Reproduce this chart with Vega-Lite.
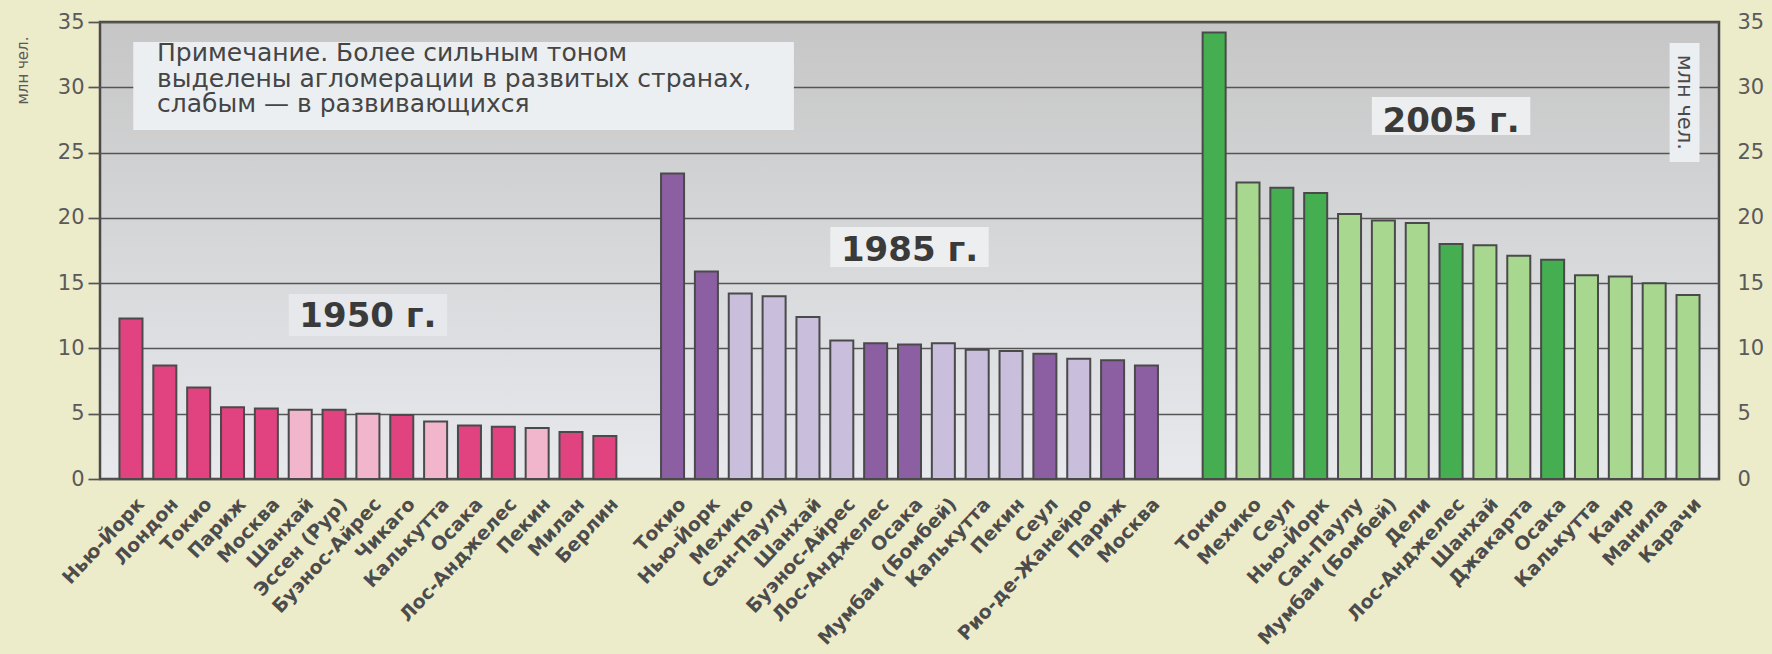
{
  "$schema": "https://vega.github.io/schema/vega-lite/v6.json",
  "width": 1619,
  "height": 457,
  "autosize": {"type": "none"},
  "padding": {"left": 100, "top": 22, "right": 53, "bottom": 175},
  "background": "#ecebca",
  "config": {
    "font": "DejaVu Sans",
    "view": {
      "fill": {"gradient": "linear", "x1": 0, "y1": 0, "x2": 0, "y2": 1, "stops": [{"offset": 0, "color": "#c6c6c6"}, {"offset": 1, "color": "#e7e9ed"}]},
      "stroke": "#4a4a4a",
      "strokeWidth": 2.5
    }
  },
  "data": {
    "values": [
      {"bar": "1950|Нью-Йорк", "year": 1950, "city": "Нью-Йорк", "value": 12.3, "group": "1950 развитые"},
      {"bar": "1950|Лондон", "year": 1950, "city": "Лондон", "value": 8.7, "group": "1950 развитые"},
      {"bar": "1950|Токио", "year": 1950, "city": "Токио", "value": 7.0, "group": "1950 развитые"},
      {"bar": "1950|Париж", "year": 1950, "city": "Париж", "value": 5.5, "group": "1950 развитые"},
      {"bar": "1950|Москва", "year": 1950, "city": "Москва", "value": 5.4, "group": "1950 развитые"},
      {"bar": "1950|Шанхай", "year": 1950, "city": "Шанхай", "value": 5.3, "group": "1950 развивающиеся"},
      {"bar": "1950|Эссен (Рур)", "year": 1950, "city": "Эссен (Рур)", "value": 5.3, "group": "1950 развитые"},
      {"bar": "1950|Буэнос-Айрес", "year": 1950, "city": "Буэнос-Айрес", "value": 5.0, "group": "1950 развивающиеся"},
      {"bar": "1950|Чикаго", "year": 1950, "city": "Чикаго", "value": 4.9, "group": "1950 развитые"},
      {"bar": "1950|Калькутта", "year": 1950, "city": "Калькутта", "value": 4.4, "group": "1950 развивающиеся"},
      {"bar": "1950|Осака", "year": 1950, "city": "Осака", "value": 4.1, "group": "1950 развитые"},
      {"bar": "1950|Лос-Анджелес", "year": 1950, "city": "Лос-Анджелес", "value": 4.0, "group": "1950 развитые"},
      {"bar": "1950|Пекин", "year": 1950, "city": "Пекин", "value": 3.9, "group": "1950 развивающиеся"},
      {"bar": "1950|Милан", "year": 1950, "city": "Милан", "value": 3.6, "group": "1950 развитые"},
      {"bar": "1950|Берлин", "year": 1950, "city": "Берлин", "value": 3.3, "group": "1950 развитые"},
      {"bar": "1985|Токио", "year": 1985, "city": "Токио", "value": 23.4, "group": "1985 развитые"},
      {"bar": "1985|Нью-Йорк", "year": 1985, "city": "Нью-Йорк", "value": 15.9, "group": "1985 развитые"},
      {"bar": "1985|Мехико", "year": 1985, "city": "Мехико", "value": 14.2, "group": "1985 развивающиеся"},
      {"bar": "1985|Сан-Паулу", "year": 1985, "city": "Сан-Паулу", "value": 14.0, "group": "1985 развивающиеся"},
      {"bar": "1985|Шанхай", "year": 1985, "city": "Шанхай", "value": 12.4, "group": "1985 развивающиеся"},
      {"bar": "1985|Буэнос-Айрес", "year": 1985, "city": "Буэнос-Айрес", "value": 10.6, "group": "1985 развивающиеся"},
      {"bar": "1985|Лос-Анджелес", "year": 1985, "city": "Лос-Анджелес", "value": 10.4, "group": "1985 развитые"},
      {"bar": "1985|Осака", "year": 1985, "city": "Осака", "value": 10.3, "group": "1985 развитые"},
      {"bar": "1985|Мумбаи (Бомбей)", "year": 1985, "city": "Мумбаи (Бомбей)", "value": 10.4, "group": "1985 развивающиеся"},
      {"bar": "1985|Калькутта", "year": 1985, "city": "Калькутта", "value": 9.9, "group": "1985 развивающиеся"},
      {"bar": "1985|Пекин", "year": 1985, "city": "Пекин", "value": 9.8, "group": "1985 развивающиеся"},
      {"bar": "1985|Сеул", "year": 1985, "city": "Сеул", "value": 9.6, "group": "1985 развитые"},
      {"bar": "1985|Рио-де-Жанейро", "year": 1985, "city": "Рио-де-Жанейро", "value": 9.2, "group": "1985 развивающиеся"},
      {"bar": "1985|Париж", "year": 1985, "city": "Париж", "value": 9.1, "group": "1985 развитые"},
      {"bar": "1985|Москва", "year": 1985, "city": "Москва", "value": 8.7, "group": "1985 развитые"},
      {"bar": "2005|Токио", "year": 2005, "city": "Токио", "value": 34.2, "group": "2005 развитые"},
      {"bar": "2005|Мехико", "year": 2005, "city": "Мехико", "value": 22.7, "group": "2005 развивающиеся"},
      {"bar": "2005|Сеул", "year": 2005, "city": "Сеул", "value": 22.3, "group": "2005 развитые"},
      {"bar": "2005|Нью-Йорк", "year": 2005, "city": "Нью-Йорк", "value": 21.9, "group": "2005 развитые"},
      {"bar": "2005|Сан-Паулу", "year": 2005, "city": "Сан-Паулу", "value": 20.3, "group": "2005 развивающиеся"},
      {"bar": "2005|Мумбаи (Бомбей)", "year": 2005, "city": "Мумбаи (Бомбей)", "value": 19.8, "group": "2005 развивающиеся"},
      {"bar": "2005|Дели", "year": 2005, "city": "Дели", "value": 19.6, "group": "2005 развивающиеся"},
      {"bar": "2005|Лос-Анджелес", "year": 2005, "city": "Лос-Анджелес", "value": 18.0, "group": "2005 развитые"},
      {"bar": "2005|Шанхай", "year": 2005, "city": "Шанхай", "value": 17.9, "group": "2005 развивающиеся"},
      {"bar": "2005|Джакарта", "year": 2005, "city": "Джакарта", "value": 17.1, "group": "2005 развивающиеся"},
      {"bar": "2005|Осака", "year": 2005, "city": "Осака", "value": 16.8, "group": "2005 развитые"},
      {"bar": "2005|Калькутта", "year": 2005, "city": "Калькутта", "value": 15.6, "group": "2005 развивающиеся"},
      {"bar": "2005|Каир", "year": 2005, "city": "Каир", "value": 15.5, "group": "2005 развивающиеся"},
      {"bar": "2005|Манила", "year": 2005, "city": "Манила", "value": 15.0, "group": "2005 развивающиеся"},
      {"bar": "2005|Карачи", "year": 2005, "city": "Карачи", "value": 14.1, "group": "2005 развивающиеся"}
    ]
  },
  "layer": [
    {
      "data": {"values": [{}]},
      "mark": {"type": "rect", "fill": "#eceff1"},
      "encoding": {
        "x": {"datum": "1950|Нью-Йорк", "type": "nominal", "bandPosition": 0.6, "axis": null},
        "x2": {"datum": "1985|Сан-Паулу", "bandPosition": 1.36},
        "y": {"datum": 33.47, "type": "quantitative", "axis": null},
        "y2": {"datum": 26.73}
      }
    },
    {
      "data": {"values": [{}]},
      "mark": {"type": "rect", "fill": "#e6e8eb"},
      "encoding": {
        "x": {"datum": "1950|Шанхай", "type": "nominal", "bandPosition": 0, "axis": null},
        "x2": {"datum": "1950|Калькутта", "bandPosition": 1},
        "y": {"datum": 14.17, "type": "quantitative", "axis": null},
        "y2": {"datum": 10.95}
      }
    },
    {
      "data": {"values": [{}]},
      "mark": {"type": "rect", "fill": "#eceef0"},
      "encoding": {
        "x": {"datum": "1985|Буэнос-Айрес", "type": "nominal", "bandPosition": 0, "axis": null},
        "x2": {"datum": "1985|Калькутта", "bandPosition": 1},
        "y": {"datum": 19.3, "type": "quantitative", "axis": null},
        "y2": {"datum": 16.24}
      }
    },
    {
      "data": {"values": [{}]},
      "mark": {"type": "rect", "fill": "#eceef0"},
      "encoding": {
        "x": {"datum": "2005|Мумбаи (Бомбей)", "type": "nominal", "bandPosition": 0, "axis": null},
        "x2": {"datum": "2005|Джакарта", "bandPosition": 1},
        "y": {"datum": 29.26, "type": "quantitative", "axis": null},
        "y2": {"datum": 26.35}
      }
    },
    {
      "mark": {"type": "bar", "stroke": "#4a4a4a", "strokeWidth": 2},
      "encoding": {
        "x": {
          "field": "bar",
          "type": "nominal",
          "scale": {
            "domain": ["1950|Нью-Йорк", "1950|Лондон", "1950|Токио", "1950|Париж", "1950|Москва", "1950|Шанхай", "1950|Эссен (Рур)", "1950|Буэнос-Айрес", "1950|Чикаго", "1950|Калькутта", "1950|Осака", "1950|Лос-Анджелес", "1950|Пекин", "1950|Милан", "1950|Берлин", "gap1",
                       "1985|Токио", "1985|Нью-Йорк", "1985|Мехико", "1985|Сан-Паулу", "1985|Шанхай", "1985|Буэнос-Айрес", "1985|Лос-Анджелес", "1985|Осака", "1985|Мумбаи (Бомбей)", "1985|Калькутта", "1985|Пекин", "1985|Сеул", "1985|Рио-де-Жанейро", "1985|Париж", "1985|Москва", "gap2",
                       "2005|Токио", "2005|Мехико", "2005|Сеул", "2005|Нью-Йорк", "2005|Сан-Паулу", "2005|Мумбаи (Бомбей)", "2005|Дели", "2005|Лос-Анджелес", "2005|Шанхай", "2005|Джакарта", "2005|Осака", "2005|Калькутта", "2005|Каир", "2005|Манила", "2005|Карачи"],
            "paddingInner": 0.32,
            "paddingOuter": 0.575
          },
          "axis": null
        },
        "y": {
          "field": "value",
          "type": "quantitative",
          "scale": {"domain": [0, 35], "nice": false},
          "axis": {
            "orient": "left",
            "values": [0, 5, 10, 15, 20, 25, 30, 35],
            "grid": true,
            "gridColor": "#555555",
            "gridWidth": 1.7,
            "gridOpacity": 1,
            "domain": false,
            "tickSize": 12,
            "tickColor": "#555555",
            "tickWidth": 1.7,
            "labelFont": "DejaVu Sans",
            "labelFontSize": 21,
            "labelColor": "#5a5a5a",
            "labelPadding": 4,
            "title": "млн чел.",
            "titleFont": "DejaVu Sans",
            "titleFontSize": 15,
            "titleFontWeight": "normal",
            "titleColor": "#5a5a5a",
            "titleAngle": -90,
            "titleX": -78,
            "titleY": 48,
            "titleAlign": "center",
            "titleBaseline": "middle"
          }
        },
        "color": {
          "field": "group",
          "type": "nominal",
          "scale": {
            "domain": ["1950 развитые", "1950 развивающиеся", "1985 развитые", "1985 развивающиеся", "2005 развитые", "2005 развивающиеся"],
            "range": ["#e0437f", "#f1b6cc", "#8c5fa3", "#c9bedc", "#44ae50", "#a8d88f"]
          },
          "legend": null
        }
      }
    },
    {
      "mark": {"type": "text", "angle": -47, "align": "right", "baseline": "middle", "dx": -9.3, "dy": 22.3, "font": "DejaVu Sans", "fontWeight": "bold", "fontSize": 19, "color": "#4c4c4c"},
      "encoding": {
        "x": {"field": "bar", "type": "nominal", "axis": null},
        "y": {"datum": 0, "type": "quantitative", "axis": null},
        "text": {"field": "city", "type": "nominal"}
      }
    },
    {
      "data": {"values": [{}]},
      "mark": {"type": "text", "text": ["Примечание.  Более сильным тоном", "выделены агломерации в развитых странах,", "слабым — в развивающихся"], "font": "DejaVu Sans", "fontSize": 25, "lineHeight": 25.5, "align": "left", "baseline": "alphabetic", "color": "#454545"},
      "encoding": {
        "x": {"datum": "1950|Лондон", "type": "nominal", "bandPosition": 0.16, "axis": null},
        "y": {"datum": 32.0, "type": "quantitative", "axis": null}
      }
    },
    {
      "data": {"values": [{}]},
      "mark": {"type": "text", "text": "1950 г.", "font": "DejaVu Sans", "fontWeight": "bold", "fontSize": 34, "align": "center", "baseline": "middle", "color": "#3a3a3a"},
      "encoding": {
        "x": {"datum": "1950|Буэнос-Айрес", "type": "nominal", "axis": null},
        "y": {"datum": 12.43, "type": "quantitative", "axis": null}
      }
    },
    {
      "data": {"values": [{}]},
      "mark": {"type": "text", "text": "1985 г.", "font": "DejaVu Sans", "fontWeight": "bold", "fontSize": 34, "align": "center", "baseline": "middle", "color": "#3a3a3a"},
      "encoding": {
        "x": {"datum": "1985|Осака", "type": "nominal", "axis": null},
        "y": {"datum": 17.45, "type": "quantitative", "axis": null}
      }
    },
    {
      "data": {"values": [{}]},
      "mark": {"type": "text", "text": "2005 г.", "font": "DejaVu Sans", "fontWeight": "bold", "fontSize": 34, "align": "center", "baseline": "middle", "color": "#3a3a3a"},
      "encoding": {
        "x": {"datum": "2005|Лос-Анджелес", "type": "nominal", "axis": null},
        "y": {"datum": 27.33, "type": "quantitative", "axis": null}
      }
    },
    {
      "data": {"values": [{}]},
      "mark": {"type": "rect", "fill": "#eceff1"},
      "encoding": {
        "x": {"datum": "2005|Карачи", "type": "nominal", "bandPosition": -0.3, "axis": null},
        "x2": {"datum": "2005|Карачи", "bandPosition": 1},
        "y": {"datum": 33.39, "type": "quantitative", "axis": null},
        "y2": {"datum": 24.28}
      }
    },
    {
      "data": {"values": [{}]},
      "mark": {"type": "text", "text": "млн чел.", "font": "DejaVu Sans", "fontSize": 21, "angle": 90, "align": "center", "baseline": "middle", "color": "#4a4a4a"},
      "encoding": {
        "x": {"datum": "2005|Карачи", "type": "nominal", "bandPosition": 0.33, "axis": null},
        "y": {
          "datum": 28.85,
          "type": "quantitative",
          "axis": {
            "orient": "right",
            "values": [0, 5, 10, 15, 20, 25, 30, 35],
            "grid": false,
            "ticks": false,
            "domain": false,
            "labelFont": "DejaVu Sans",
            "labelFontSize": 21,
            "labelColor": "#5a5a5a",
            "labelPadding": 18,
            "title": null
          }
        }
      }
    }
  ],
  "resolve": {"axis": {"y": "independent"}}
}
